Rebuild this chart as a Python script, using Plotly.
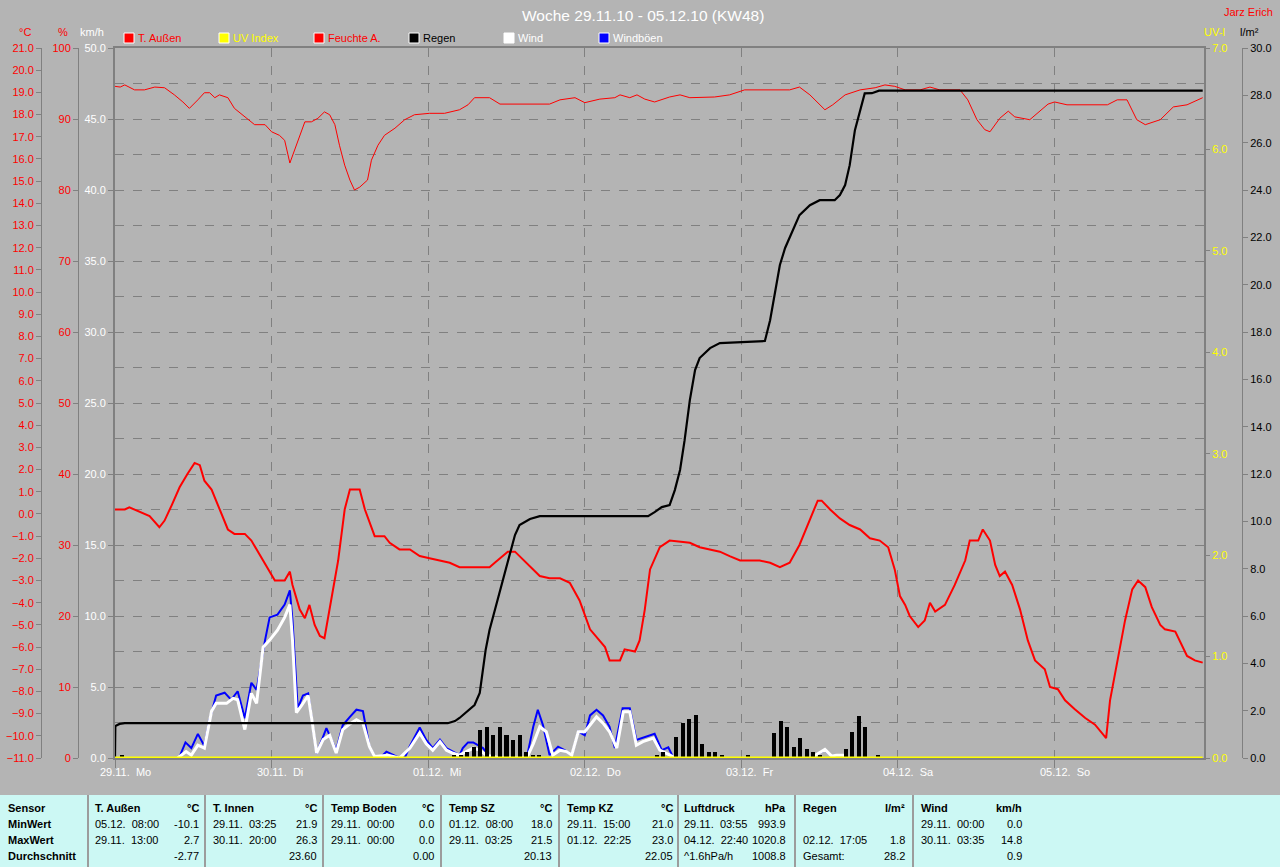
import plotly.graph_objects as go

W, H = 1280, 867
BG = "#B4B4B4"
GRID = "#808080"
FONT = "Liberation Sans, Arial, sans-serif"


def px(x):
    return x / W


def py(y):
    return 1 - y / H


# ---------------- data (hours since 29.11.10 00:00) ----------------
temp_pts = [(0, 0.2), (1.5, 0.2), (2.2, 0.3), (3.8, 0.1), (5.3, -0.1), (6.8, -0.6), (7.6, -0.3), (8.7, 0.4),
            (9.9, 1.2), (11.1, 1.8), (12.2, 2.3), (13.0, 2.2), (13.7, 1.5), (14.8, 1.1), (16.0, 0.2),
            (17.3, -0.7), (18.3, -0.9), (19.9, -0.9), (20.9, -1.2), (22.1, -1.8), (23.4, -2.5), (24.5, -3.0),
            (26.0, -3.0), (26.8, -2.6), (27.2, -3.2), (28.3, -4.3), (29.1, -4.7), (29.8, -4.1), (30.6, -5.0),
            (31.4, -5.5), (32.1, -5.6), (32.9, -4.3), (34.2, -2.1), (35.2, 0.2), (36.0, 1.1), (37.5, 1.1),
            (38.3, 0.2), (39.8, -1.0), (41.3, -1.0), (42.1, -1.3), (43.6, -1.6), (45.2, -1.6), (46.7, -1.9),
            (48.2, -2.0), (49.8, -2.1), (51.3, -2.2), (52.8, -2.4), (57.4, -2.4), (58.2, -2.2), (59.0, -2.0),
            (60.2, -1.7), (61.3, -1.7), (62.0, -1.9), (63.6, -2.4), (65.1, -2.8), (66.6, -2.9), (68.2, -2.9),
            (69.7, -3.1), (71.2, -3.9), (72.8, -5.2), (74.3, -5.7), (75.1, -6.0), (75.8, -6.6), (77.4, -6.6),
            (78.1, -6.1), (79.7, -6.2), (80.4, -5.7), (81.2, -4.3), (82.0, -2.5), (83.5, -1.5), (85.0, -1.2),
            (88.1, -1.3), (89.6, -1.5), (91.2, -1.6), (92.7, -1.7), (94.2, -1.9), (95.8, -2.1), (98.8, -2.1),
            (100.4, -2.2), (101.9, -2.4), (103.4, -2.2), (104.9, -1.4), (106.5, -0.3), (107.7, 0.6),
            (108.3, 0.6), (109.6, 0.2), (111.1, -0.2), (112.6, -0.5), (114.2, -0.7), (115.7, -1.1),
            (117.2, -1.2), (118.5, -1.5), (119.5, -2.5), (120.3, -3.7), (121.1, -4.1), (121.8, -4.6),
            (123.1, -5.1), (124.1, -4.8), (124.9, -4.0), (125.7, -4.4), (127.2, -4.1), (128.7, -3.2),
            (130.3, -2.1), (131.0, -1.2), (132.3, -1.2), (133.0, -0.7), (134.1, -1.2), (134.9, -2.3),
            (135.6, -2.8), (136.4, -2.6), (137.5, -3.2), (138.7, -4.3), (139.9, -5.7), (141.0, -6.6),
            (142.5, -7.0), (143.3, -7.8), (144.5, -7.9), (145.6, -8.4), (147.1, -8.8), (148.7, -9.2),
            (150.2, -9.5), (151.9, -10.1), (152.5, -8.4), (153.7, -6.6), (154.8, -4.8), (155.9, -3.4),
            (156.8, -3.0), (157.9, -3.3), (158.9, -4.2), (160.2, -5.0), (160.9, -5.2), (162.5, -5.3),
            (163.2, -5.7), (164.3, -6.4), (165.5, -6.6), (166.7, -6.7)]

hum_pts = [(0, 94.6), (0.8, 94.5), (1.5, 94.8), (3.0, 94.1), (4.5, 94.1), (6.1, 94.5), (7.6, 94.4), (9.1, 93.4),
           (10.4, 92.4), (11.4, 91.5), (12.7, 92.7), (13.7, 93.7), (14.5, 93.7), (15.3, 93.0), (16.0, 93.4),
           (17.3, 93.0), (18.3, 91.5), (19.9, 90.3), (21.4, 89.2), (23.0, 89.2), (24.0, 88.2), (25.2, 87.7),
           (26.0, 87.0), (26.8, 83.8), (27.5, 85.6), (28.3, 87.7), (29.1, 89.6), (30.1, 89.6), (31.1, 90.1),
           (32.1, 91.0), (32.9, 90.6), (33.7, 89.2), (34.4, 86.3), (35.2, 83.5), (36.0, 81.4), (36.7, 80.0),
           (37.5, 80.4), (38.7, 81.4), (39.3, 84.2), (40.3, 86.3), (41.3, 87.7), (42.9, 88.7), (44.4, 89.9),
           (45.9, 90.6), (48.2, 90.8), (50.5, 90.8), (52.8, 91.3), (54.1, 92.0), (55.1, 93.0), (57.4, 93.0),
           (59.0, 92.1), (66.6, 92.1), (68.2, 92.7), (70.5, 93.0), (72.0, 92.3), (74.3, 92.8), (76.6, 93.0),
           (77.4, 93.4), (78.9, 93.0), (80.0, 93.4), (81.2, 92.8), (82.7, 92.4), (85.0, 93.1), (86.6, 93.4),
           (88.1, 93.0), (91.9, 93.1), (94.2, 93.4), (96.5, 94.1), (103.4, 94.1), (104.9, 94.5), (106.5, 93.4),
           (108.8, 91.3), (110.0, 92.0), (111.9, 93.4), (114.2, 94.1), (116.5, 94.4), (118.0, 94.8),
           (119.5, 94.6), (121.1, 94.1), (123.4, 94.1), (124.9, 94.5), (126.4, 94.1), (129.5, 94.1),
           (130.7, 92.7), (132.1, 89.9), (133.3, 88.5), (134.1, 88.2), (135.6, 90.1), (136.9, 91.1),
           (137.9, 90.3), (140.2, 89.9), (143.0, 92.1), (144.0, 92.4), (145.9, 92.0), (152.1, 92.0),
           (153.6, 92.7), (155.1, 92.7), (156.6, 89.9), (157.9, 89.2), (160.2, 89.9), (162.2, 91.7),
           (164.3, 92.0), (166.7, 93.0)]

rain_sum_pts = [(0, 0), (0.05, 1.35), (0.7, 1.44), (1.5, 1.47), (51.0, 1.47), (52.1, 1.56), (52.8, 1.69),
                (54.3, 2.03), (55.1, 2.24), (55.9, 2.75), (56.8, 4.56), (57.4, 5.41), (58.2, 6.25), (59.0, 7.10),
                (59.7, 7.73), (60.5, 8.58), (61.3, 9.42), (62.0, 9.84), (63.6, 10.10), (65.1, 10.22),
                (81.7, 10.22), (82.7, 10.39), (83.8, 10.60), (85.0, 10.69), (85.8, 11.32), (86.6, 12.17),
                (87.3, 13.43), (88.1, 15.12), (88.9, 16.39), (89.6, 16.90), (91.2, 17.32), (92.7, 17.53),
                (95.8, 17.57), (99.6, 17.62), (100.4, 18.50), (101.2, 19.77), (101.9, 20.83), (102.7, 21.55),
                (103.4, 21.97), (104.2, 22.52), (104.9, 22.94), (106.5, 23.36), (108.0, 23.57), (110.3, 23.57),
                (111.1, 23.79), (111.9, 24.21), (112.6, 25.05), (113.4, 26.53), (114.2, 27.38), (114.9, 28.08),
                (116.0, 28.09), (117.1, 28.2), (166.7, 28.2)]

rain_hour_pts = [(1, 0.13), (52, 0.12), (53, 0.12), (54, 0.27), (55, 0.48), (56, 1.18), (57, 1.32), (58, 0.97),
                 (59, 1.32), (60, 0.97), (61, 0.76), (62, 0.97), (63, 0.27), (64, 0.13), (65, 0.13),
                 (83, 0.13), (84, 0.27), (86, 0.87), (87, 1.46), (88, 1.65), (89, 1.8), (90, 0.59), (91, 0.27),
                 (92, 0.27), (93, 0.13), (97, 0.13), (101, 1.07), (102, 1.57), (103, 1.32), (104, 0.47),
                 (105, 0.85), (106, 0.36), (107, 0.27), (108, 0.13), (112, 0.36), (113, 1.08), (114, 1.78),
                 (115, 1.31), (117, 0.13)]

wind_pts = [(9.6, 0), (10.9, 0.45), (11.7, 0.2), (12.7, 0.9), (13.7, 0.7), (14.8, 3.3), (15.5, 3.85),
            (17.1, 3.85), (18.1, 4.2), (18.8, 4.1), (19.9, 2.0), (20.9, 4.55), (21.7, 3.85), (22.7, 7.8),
            (23.7, 8.3), (24.9, 9.0), (26.0, 9.9), (26.8, 10.8), (27.2, 8.3), (27.8, 3.2), (28.6, 3.7),
            (29.6, 4.4), (30.1, 2.9), (30.9, 0.35), (31.9, 1.3), (32.9, 1.6), (33.9, 0.35), (34.9, 2.0),
            (36.0, 2.4), (37.0, 2.7), (38.0, 2.45), (39.0, 0.8), (39.8, 0.1), (41.8, 0.2), (43.6, 0),
            (45.2, 0.7), (46.7, 1.75), (47.7, 1.0), (48.7, 0.55), (49.8, 1.15), (50.8, 0.55), (51.8, 0.33),
            (52.8, 0.2), (53.9, 0.45), (54.9, 0.7), (55.9, 0.55), (56.9, 0.2), (57.9, 0.1), (59.0, 0),
            (63.1, 0), (64.1, 1.0), (65.1, 2.2), (66.1, 1.85), (67.1, 0.2), (68.2, 0.55), (69.2, 0.45),
            (70.0, 0.2), (71.0, 1.85), (72.0, 1.85), (73.8, 2.9), (74.8, 2.45), (75.8, 1.85), (76.9, 0.7),
            (77.9, 3.25), (78.9, 3.25), (79.9, 0.9), (80.9, 1.15), (82.5, 1.4), (83.5, 0.55), (84.5, 0.33),
            (85.5, 0.1), (86.3, 0), (None, None),
            (106.8, 0), (107.7, 0.3), (108.8, 0.6), (109.8, 0.15), (110.6, 0.2), (111.6, 0.2), (112.0, 0)]

gust_pts = [(9.6, 0), (9.9, 0.1), (10.8, 1.1), (11.7, 0.7), (12.7, 1.7), (13.7, 0.85), (14.5, 2.7), (15.5, 4.4),
            (16.8, 4.6), (17.8, 4.1), (18.8, 4.7), (19.9, 2.8), (20.9, 5.3), (21.7, 4.8), (23.0, 8.3),
            (23.7, 9.9), (24.9, 10.1), (26.0, 10.8), (26.8, 11.8), (27.2, 9.7), (28.0, 3.5), (28.8, 4.4),
            (29.6, 4.55), (30.1, 3.0), (30.9, 0.35), (31.9, 1.5), (32.4, 2.1), (33.9, 0.55), (34.9, 2.3),
            (36.0, 2.9), (37.0, 3.4), (38.0, 3.3), (39.0, 0.8), (39.8, 0.1), (40.6, 0), (41.6, 0.45),
            (42.6, 0.2), (43.6, 0), (44.4, 0), (45.2, 0.85), (46.7, 2.15), (47.7, 1.27), (48.7, 0.7),
            (49.8, 1.3), (50.8, 0.7), (51.8, 0.45), (52.8, 0.2), (53.3, 0.7), (54.1, 1.1), (54.9, 1.1),
            (55.6, 0.9), (56.4, 0.7), (57.4, 0.1), (58.2, 0), (63.1, 0), (64.1, 2.2), (64.8, 3.4), (65.6, 2.3),
            (66.6, 0.2), (67.9, 0.8), (68.9, 0.55), (70.0, 0.2), (71.0, 1.85), (72.0, 1.6), (72.8, 3.0),
            (73.8, 3.4), (74.8, 3.0), (75.8, 2.2), (76.6, 0.7), (77.8, 3.5), (78.9, 3.5), (79.9, 1.27),
            (82.7, 1.7), (83.8, 0.55), (84.8, 0.75), (85.5, 0.1), (86.3, 0), (None, None),
            (106.8, 0), (107.7, 0.3), (108.8, 0.55), (109.8, 0.15), (110.6, 0.2), (111.6, 0.2), (112.0, 0)]

uv_pts = [(0, 0), (166.7, 0)]

day_labels = ["29.11.\u00a0 Mo", "30.11.\u00a0 Di", "01.12.\u00a0 Mi", "02.12.\u00a0 Do",
              "03.12.\u00a0 Fr", "04.12.\u00a0 Sa", "05.12.\u00a0 So"]

legend_names = ["T. Außen", "UV Index", "Feuchte A.", "Regen", "Wind", "Windböen"]
legend_text_colors = ["#FF0000", "#FFFF00", "#FF0000", "#000000", "#FFFFFF", "#FFFFFF"]
legend_box_colors = ["#FF0000", "#FFFF00", "#FF0000", "#000000", "#FFFFFF", "#0000FF"]

table_sensors = ["T. Außen", "T. Innen", "Temp Boden", "Temp SZ", "Temp KZ", "Luftdruck", "Regen", "Wind"]
table_units = ["°C", "°C", "°C", "°C", "°C", "hPa", "l/m²", "km/h"]
table_min = [("05.12.\u00a0 08:00", "-10.1"), ("29.11.\u00a0 03:25", "21.9"), ("29.11.\u00a0 00:00", "0.0"),
             ("01.12.\u00a0 08:00", "18.0"), ("29.11.\u00a0 15:00", "21.0"), ("29.11.\u00a0 03:55", "993.9"),
             ("", ""), ("29.11.\u00a0 00:00", "0.0")]
table_max = [("29.11.\u00a0 13:00", "2.7"), ("30.11.\u00a0 20:00", "26.3"), ("29.11.\u00a0 00:00", "0.0"),
             ("29.11.\u00a0 03:25", "21.5"), ("01.12.\u00a0 22:25", "23.0"), ("04.12.\u00a0 22:40", "1020.8"),
             ("02.12.\u00a0 17:05", "1.8"), ("30.11.\u00a0 03:35", "14.8")]
table_avg = [("", "-2.77"), ("", "23.60"), ("", "0.00"), ("", "20.13"), ("", "22.05"),
             ("^1.6hPa/h", "1008.8"), ("Gesamt:", "28.2"), ("", "0.9")]
row_names = ["Sensor", "MinWert", "MaxWert", "Durchschnitt"]


def xs(pts):
    return [p[0] for p in pts]


def ys(pts):
    return [p[1] for p in pts]


fig = go.Figure()

# km/h axis (base): wind gusts & wind
fig.add_trace(go.Scatter(x=xs(gust_pts), y=ys(gust_pts), mode="lines", name="Windböen",
                         line=dict(color="#0000FF", width=2), yaxis="y", connectgaps=False))
fig.add_trace(go.Scatter(x=xs(wind_pts), y=ys(wind_pts), mode="lines", name="Wind",
                         line=dict(color="#FFFFFF", width=3), yaxis="y", connectgaps=False))
# temperature
fig.add_trace(go.Scatter(x=xs(temp_pts), y=ys(temp_pts), mode="lines", name="T. Außen",
                         line=dict(color="#FF0000", width=2), yaxis="y2"))
# humidity
fig.add_trace(go.Scatter(x=xs(hum_pts), y=ys(hum_pts), mode="lines", name="Feuchte A.",
                         line=dict(color="#FF0000", width=1), yaxis="y3"))
# rain
fig.add_trace(go.Bar(x=xs(rain_hour_pts), y=ys(rain_hour_pts), name="Regen",
                     marker=dict(color="#000000", line=dict(width=0)), width=0.62, yaxis="y4"))
fig.add_trace(go.Scatter(x=xs(rain_sum_pts), y=ys(rain_sum_pts), mode="lines", name="Regen",
                         line=dict(color="#000000", width=2.2), yaxis="y4"))
# UV
fig.add_trace(go.Scatter(x=xs(uv_pts), y=ys(uv_pts), mode="lines", name="UV Index",
                         line=dict(color="#FFFF00", width=3), yaxis="y5"))

dom_y = [py(758), py(48)]
tick_common = dict(ticks="outside", ticklen=5, tickwidth=1, tickcolor=GRID, automargin=False,
                   showline=True, linecolor=GRID, linewidth=1, zeroline=False, showgrid=False)

fig.update_layout(
    width=W, height=H, autosize=False,
    margin=dict(l=0, r=0, t=0, b=0, pad=0, autoexpand=False),
    paper_bgcolor=BG, plot_bgcolor=BG,
    showlegend=False, bargap=0,
    xaxis=dict(domain=[px(115), px(1204)], range=[0, 166.9], tick0=0, dtick=24, automargin=False,
               showgrid=True, gridcolor=GRID, griddash="dash", gridwidth=1,
               showticklabels=False, ticks="outside", ticklen=8, tickcolor=GRID,
               showline=True, linecolor=GRID, linewidth=2, mirror=True, zeroline=False),
    yaxis=dict(domain=dom_y, range=[0, 50], tick0=0, dtick=5, tickformat=".1f", automargin=False,
               ticks="outside", ticklen=5, tickcolor=GRID,
               tickfont=dict(family=FONT, size=11, color="#FFFFFF"),
               showgrid=True, gridcolor=GRID, griddash="dash", gridwidth=1,
               minor=dict(dtick=2.5, showgrid=True, gridcolor=GRID, griddash="dash", gridwidth=1),
               showline=True, linecolor=GRID, linewidth=2, mirror=True, zeroline=False),
    yaxis2=dict(overlaying="y", anchor="free", position=px(41), side="left",
                range=[-11, 21], tick0=-11, dtick=1, tickformat=".1f",
                tickfont=dict(family=FONT, size=11, color="#FF0000"), **tick_common),
    yaxis3=dict(overlaying="y", anchor="free", position=px(78), side="left",
                range=[0, 100], tick0=0, dtick=10, tickformat="d",
                tickfont=dict(family=FONT, size=11, color="#FF0000"), **tick_common),
    yaxis4=dict(overlaying="y", anchor="free", position=px(1242), side="right",
                range=[0, 30], tick0=0, dtick=2, tickformat=".1f",
                tickfont=dict(family=FONT, size=11, color="#000000"), **tick_common),
    yaxis5=dict(overlaying="y", anchor="x", side="right", automargin=False,
                range=[0, 7], tick0=0, dtick=1, tickformat=".1f",
                ticks="outside", ticklen=5, tickcolor=GRID, showline=False, showgrid=False,
                zeroline=False, tickfont=dict(family=FONT, size=11, color="#FFFF00")),
)

ann = []


def txt(x, y, s, color="#000000", size=11, xanchor="left", bold=False, xref="paper", xshift=0):
    ann.append(dict(x=x if xref != "paper" else px(x), y=py(y), xref=xref, yref="paper",
                    text=("<b>%s</b>" % s) if bold else s, showarrow=False,
                    xanchor=xanchor, yanchor="middle", xshift=xshift,
                    font=dict(family=FONT, size=size, color=color), borderpad=0, borderwidth=0))


# title and header texts
txt(643, 15, "Woche 29.11.10 - 05.12.10 (KW48)", "#FFFFFF", size=15.5, xanchor="center")
txt(1273, 12, "Jarz Erich", "#FF0000", xanchor="right")
txt(25, 32, "°C", "#FF0000", xanchor="center")
txt(63, 32, "%", "#FF0000", xanchor="center")
txt(92, 32, "km/h", "#FFFFFF", xanchor="center")
txt(1214, 32, "UV-I", "#FFFF00", xanchor="center")
txt(1249, 32, "l/m²", "#000000", xanchor="center")

# legend
shapes = []
leg_x = [124, 219, 314, 409, 504, 599]
for lx, name, tc, bc in zip(leg_x, legend_names, legend_text_colors, legend_box_colors):
    shapes.append(dict(type="rect", xref="paper", yref="paper", x0=px(lx), x1=px(lx + 10),
                       y0=py(43), y1=py(33), fillcolor=bc, line=dict(color="#FFFFFF", width=1)))
    txt(lx + 14, 38, name, tc)

# day labels under the x axis
for i, lab in enumerate(day_labels):
    txt(i * 24, 772, lab, "#FFFFFF", xref="x", xshift=-15)

# statistics table
shapes.append(dict(type="rect", xref="paper", yref="paper", x0=0, x1=1, y0=0, y1=py(795),
                   fillcolor="#CCF8F4", line=dict(width=0), layer="below"))
for sx in [88, 205, 323, 441, 559, 678, 795, 913]:
    shapes.append(dict(type="line", xref="paper", yref="paper", x0=px(sx), x1=px(sx), y0=0, y1=py(795),
                       line=dict(color="#9C9C9C", width=2)))

row_y = [808, 824, 840, 856]
for name, yy in zip(row_names, row_y):
    txt(8, yy, name, bold=True)
col_left = [95, 213, 331, 449, 567, 684, 803, 921]
col_right = [199, 317, 434, 552, 673, 786, 905, 1022]
for i in range(len(table_sensors)):
    txt(col_left[i], row_y[0], table_sensors[i], bold=True)
    txt(col_right[i], row_y[0], table_units[i], bold=True, xanchor="right")
    for rows, yy in [(table_min, row_y[1]), (table_max, row_y[2]), (table_avg, row_y[3])]:
        left, right = rows[i]
        if left:
            txt(col_left[i], yy, left)
        if right:
            txt(col_right[i], yy, right, xanchor="right")

fig.update_layout(annotations=ann, shapes=shapes)

fig.write_html("out.html", config={"displayModeBar": False},
               post_script="document.body.style.margin='0';")
